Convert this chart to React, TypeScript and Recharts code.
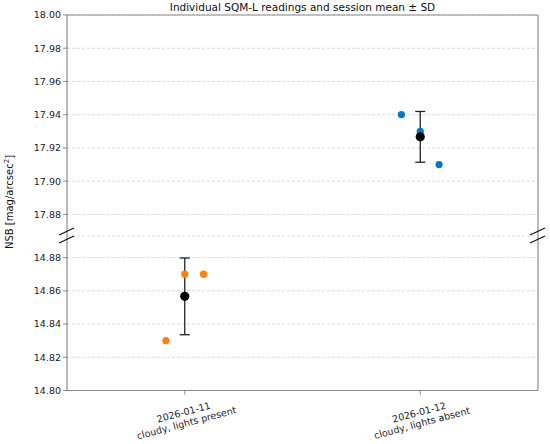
import React from "react";
import { ScatterChart, Scatter, XAxis, YAxis, CartesianGrid, ErrorBar, ReferenceLine } from "recharts";

// sessions on the categorical x axis (index 0, 1)
const sessionDates = ["2026-01-11", "2026-01-12"];
const sessionNotes = ["cloudy, lights present", "cloudy, lights absent"];
const sessionColors = ["#ff7f0e", "#0a78bd"];

// individual SQM-L readings per session (mag/arcsec^2)
const readings2026_01_11 = [14.83, 14.87, 14.87];
const readings2026_01_12 = [17.94, 17.93, 17.91];
const sessionReadings = [readings2026_01_11, readings2026_01_12];

// horizontal jitter of the individual readings around each category
const jitter = [-0.08, 0, 0.08];

const topTicks = [17.88, 17.9, 17.92, 17.94, 17.96, 17.98, 18.0];
const bottomTicks = [14.8, 14.82, 14.84, 14.86, 14.88];
const topDomain: [number, number] = [17.867, 18.0];
const bottomDomain: [number, number] = [14.8, 14.893];

const mean = (a: number[]) => a.reduce((s, v) => s + v, 0) / a.length;
const sd = (a: number[]) => {
  const m = mean(a);
  return Math.sqrt(a.reduce((s, v) => s + (v - m) ** 2, 0) / (a.length - 1));
};

const readingPoints = (i: number) =>
  sessionReadings[i].map((v, j) => ({ x: i + jitter[j], y: v }));
const meanPoint = (i: number) => [
  { x: i, y: mean(sessionReadings[i]), sd: sd(sessionReadings[i]) },
];

const inRange = (i: number, d: [number, number]) =>
  sessionReadings[i].every((v) => v >= d[0] && v <= d[1]);

const SPINE = "#8a8a8a";
const FONT = "DejaVu Sans, sans-serif";

const SessionTick = (props: any) => {
  const { x, y, payload } = props;
  const i = payload.value;
  return (
    <g transform={`translate(${x},${y + 20})`}>
      <text transform="rotate(-15)" textAnchor="middle" fontSize={9.5} fill="#222" fontFamily={FONT}>
        <tspan x={0} dy={-1}>{sessionDates[i]}</tspan>
        <tspan x={0} dy={11}>{sessionNotes[i]}</tspan>
      </text>
    </g>
  );
};

function Panel({
  domain,
  ticks,
  height,
  margin,
  bottom,
}: {
  domain: [number, number];
  ticks: number[];
  height: number;
  margin: { top: number; right: number; bottom: number; left: number };
  bottom: boolean;
}) {
  const shown = [0, 1].filter((i) => inRange(i, domain));
  return (
    <ScatterChart width={550} height={height} margin={margin}>
      <CartesianGrid yAxisId="l" vertical={false} stroke="#cfcfcf" strokeDasharray="3 2" strokeWidth={0.8} />
      <XAxis
        type="number"
        dataKey="x"
        domain={[-0.5, 1.5]}
        allowDataOverflow
        ticks={bottom ? [0, 1] : []}
        hide={!bottom}
        height={50}
        axisLine={{ stroke: SPINE, strokeWidth: 1.2 }}
        tickSize={4}
        tickLine={{ stroke: SPINE }}
        tick={<SessionTick />}
        interval={0}
      />
      <YAxis
        type="number"
        dataKey="y"
        yAxisId="l"
        domain={domain}
        allowDataOverflow
        ticks={ticks}
        interval={0}
        width={40}
        axisLine={false}
        tickLine={{ stroke: SPINE }}
        tickSize={4}
        tickFormatter={(v: number) => v.toFixed(2)}
        tick={{ fontSize: 9.5, fill: "#222", fontFamily: FONT }}
      />
      <ReferenceLine yAxisId="l" x={-0.5} stroke={SPINE} strokeWidth={1.2} />
      <ReferenceLine yAxisId="l" x={1.5} stroke={SPINE} strokeWidth={1.2} />
      {!bottom && <ReferenceLine yAxisId="l" y={domain[1]} stroke={SPINE} strokeWidth={1.2} />}
      {shown.map((i) => (
        <Scatter
          key={`r${i}`}
          yAxisId="l"
          data={readingPoints(i)}
          fill={sessionColors[i]}
          shape={(p: any) => <circle cx={p.cx} cy={p.cy} r={3.6} fill={sessionColors[i]} />}
          isAnimationActive={false}
        />
      ))}
      {shown.map((i) => (
        <Scatter
          key={`m${i}`}
          yAxisId="l"
          data={meanPoint(i)}
          fill="#000"
          shape={(p: any) => <circle cx={p.cx} cy={p.cy} r={4.6} fill="#000" />}
          isAnimationActive={false}
        >
          <ErrorBar dataKey="sd" direction="y" width={5} stroke="#222" strokeWidth={1.3} />
        </Scatter>
      ))}
    </ScatterChart>
  );
}

export default function App() {
  return (
    <div style={{ position: "absolute", left: 0, top: 0, width: 550, height: 444, background: "#fff" }}>
      <div style={{ position: "absolute", left: 0, top: 0 }}>
        <Panel domain={topDomain} ticks={topTicks} height={236} margin={{ top: 15, right: 12, bottom: 0, left: 27 }} bottom={false} />
      </div>
      <div style={{ position: "absolute", left: 0, top: 236 }}>
        <Panel domain={bottomDomain} ticks={bottomTicks} height={208} margin={{ top: 0, right: 12, bottom: 3.5, left: 27 }} bottom />
      </div>
      <svg width={550} height={444} style={{ position: "absolute", left: 0, top: 0, pointerEvents: "none" }}>
        <text x={302.5} y={11} textAnchor="middle" fontSize={10.5} fill="#111" fontFamily={FONT}>
          Individual SQM-L readings and session mean ± SD
        </text>
        <text transform="translate(13,202) rotate(-90)" textAnchor="middle" fontSize={10} fill="#111" fontFamily={FONT}>
          NSB [mag/arcsec<tspan fontSize={7} dy={-4}>2</tspan><tspan dy={4}>]</tspan>
        </text>
        {[67, 538].map((sx) => (
          <g key={sx} stroke="#111" strokeWidth={1.2}>
            <line x1={sx - 8} y1={235} x2={sx + 7} y2={228} />
            <line x1={sx - 8} y1={243} x2={sx + 7} y2={236} />
          </g>
        ))}
      </svg>
    </div>
  );
}
